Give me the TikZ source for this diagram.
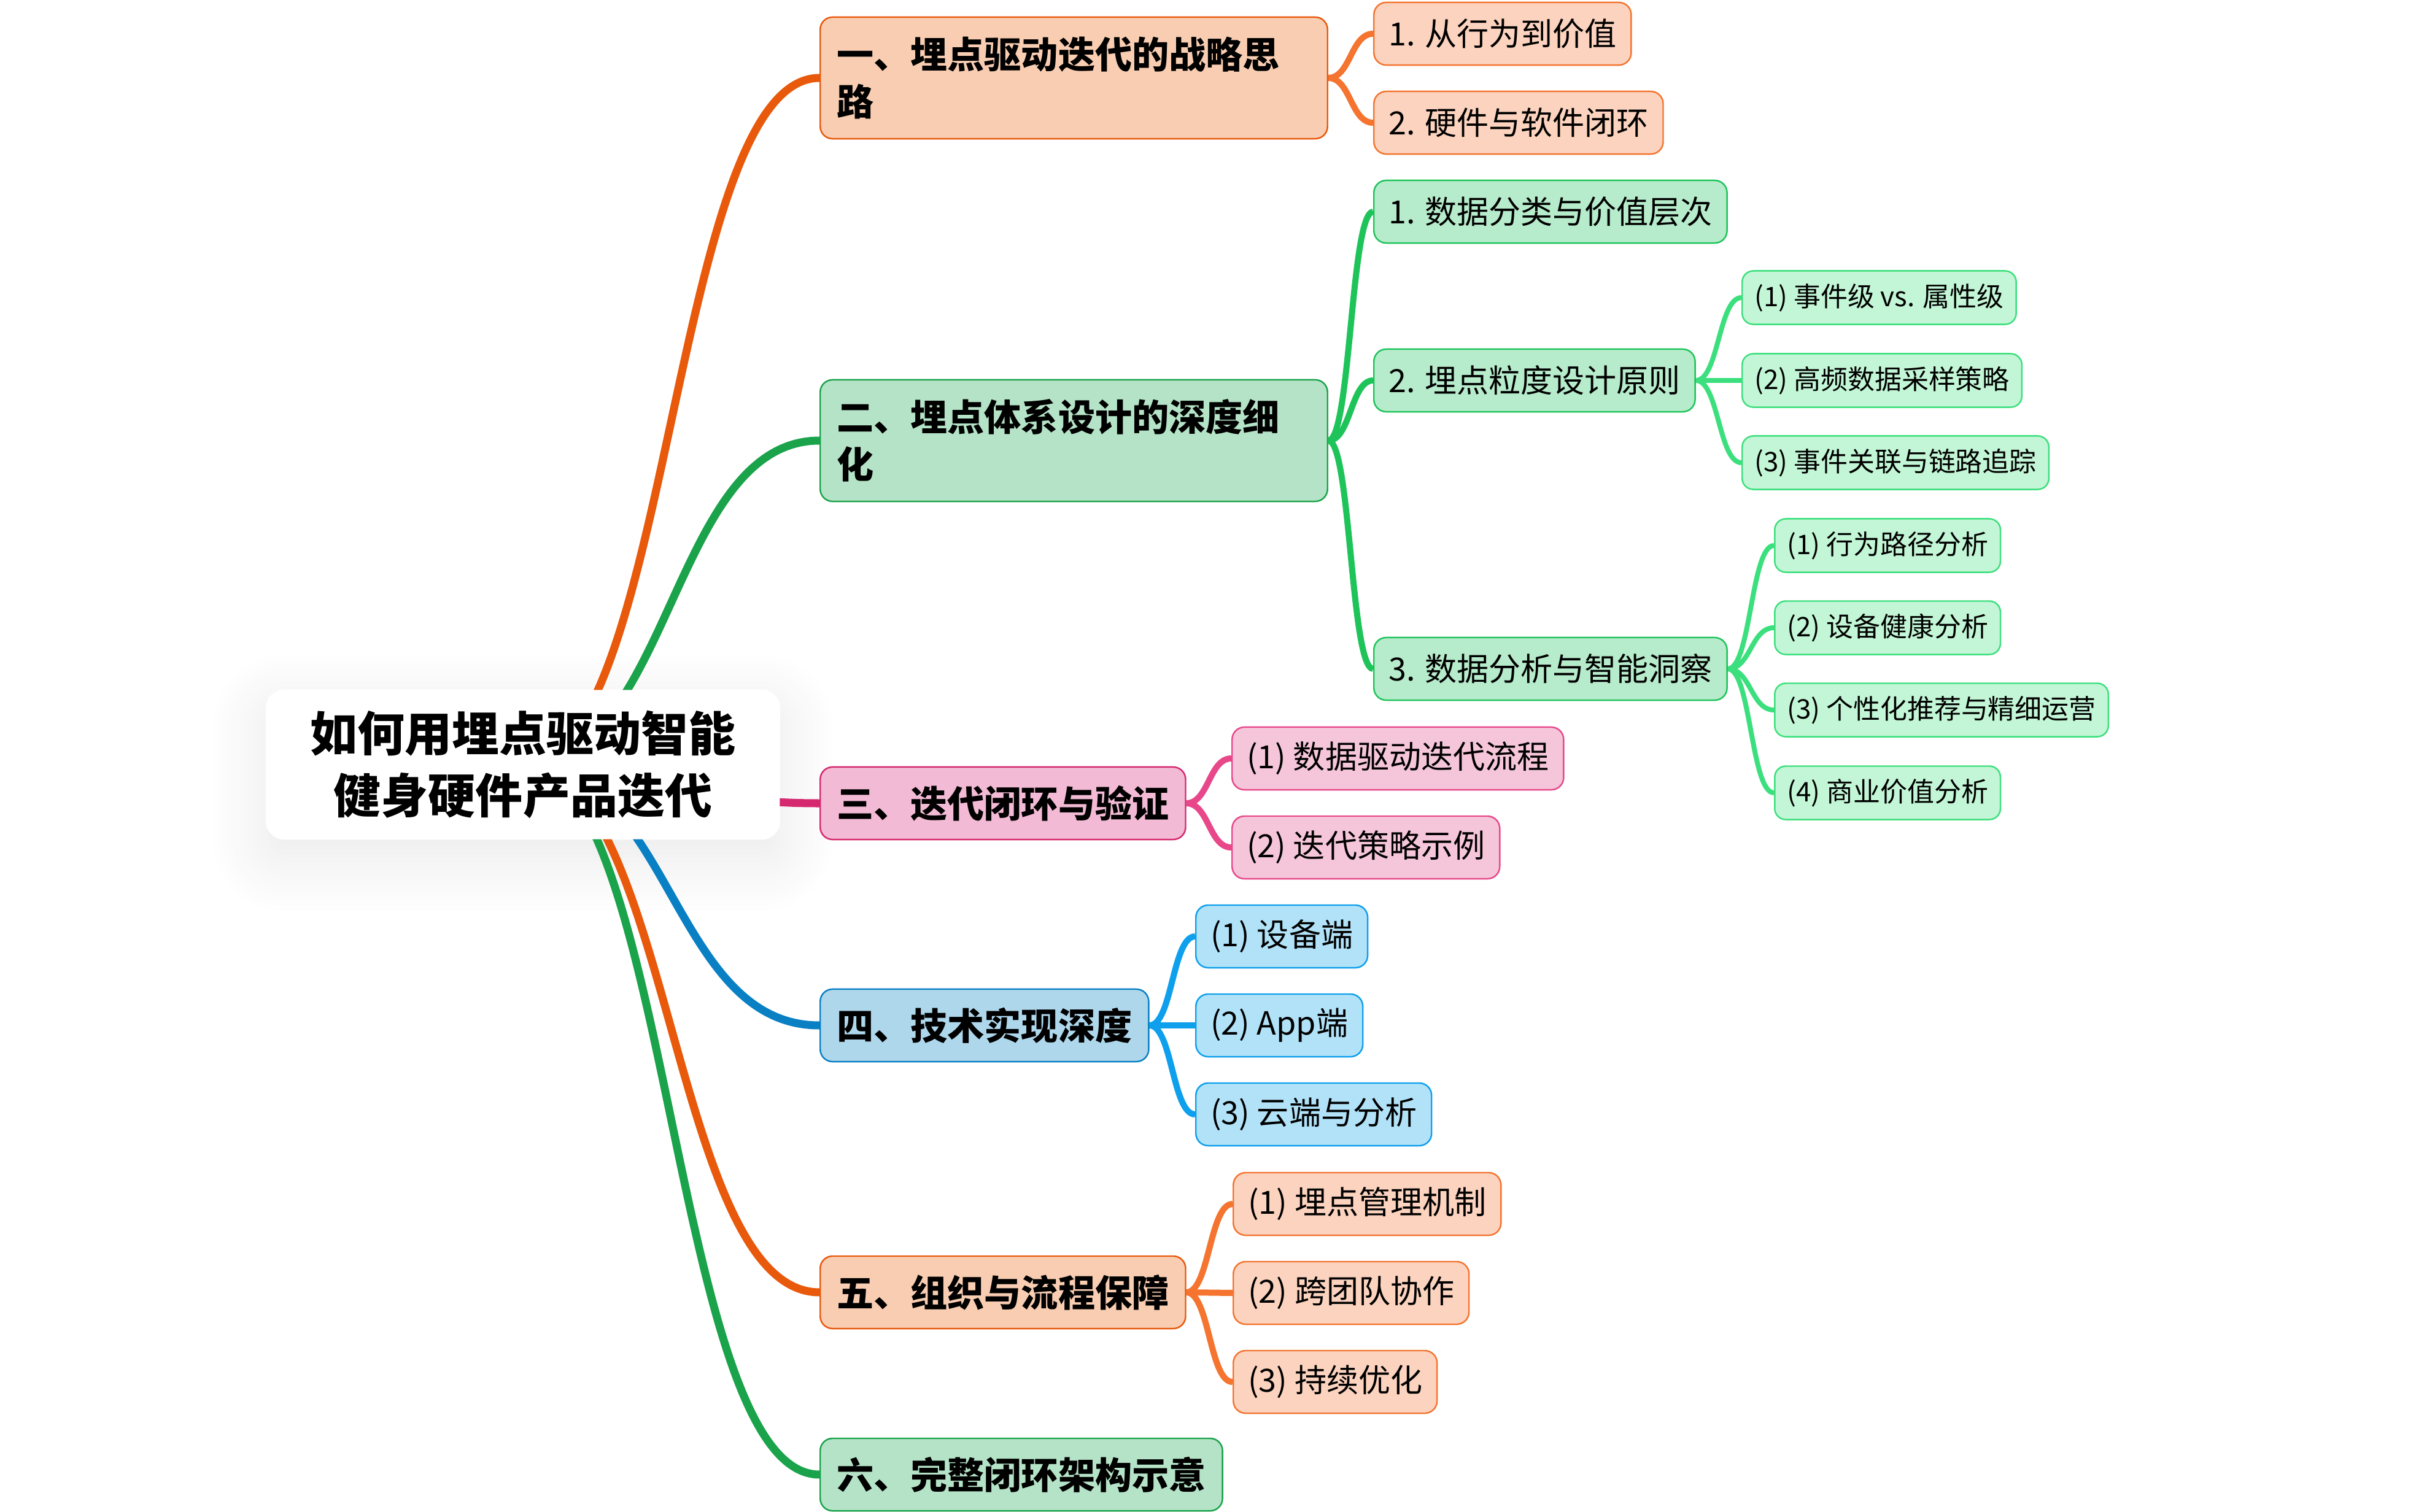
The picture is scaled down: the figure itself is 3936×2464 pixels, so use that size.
\documentclass[tikz,border=0pt]{standalone}
\usepackage{fontspec}
\setmainfont{Noto Sans CJK SC}
\usepackage{tikz}
\usetikzlibrary{calc, backgrounds, shadows.blur}

% 阴影层放在最下面
\pgfdeclarelayer{shade}
\pgfsetlayers{shade,background,main}

% 各分支颜色 (A: 一级, B: 二级, C: 三级; f 为填充)
\definecolor{orgA}{HTML}{E8590C} \definecolor{orgAf}{HTML}{F8CDB2}
\definecolor{orgB}{HTML}{F47430} \definecolor{orgBf}{HTML}{FBD3BE}
\definecolor{grnA}{HTML}{1AA34A} \definecolor{grnAf}{HTML}{B5E3C7}
\definecolor{grnB}{HTML}{1EC45A} \definecolor{grnBf}{HTML}{B6EBCB}
\definecolor{grnC}{HTML}{3CDF7D} \definecolor{grnCf}{HTML}{C3F6D6}
\definecolor{pnkA}{HTML}{D6286F} \definecolor{pnkAf}{HTML}{F2BAD4}
\definecolor{pnkB}{HTML}{E8488A} \definecolor{pnkBf}{HTML}{F5C6DA}
\definecolor{bluA}{HTML}{0A80C4} \definecolor{bluAf}{HTML}{AED7EC}
\definecolor{bluB}{HTML}{0EA0EC} \definecolor{bluBf}{HTML}{B1E2F8}

\tikzset{
  root/.style={fill=white, rounded corners=0.3cm, minimum width=8.36cm, minimum height=2.43cm,
    align=center, font=\fontsize{21.9pt}{29pt}\selectfont\bfseries},
  lvone/.style={draw=#1, fill=#1f, line width=0.7pt, rounded corners=0.2cm, anchor=west,
    inner xsep=0.27cm, inner ysep=0pt, minimum height=1.18cm,
    font=\fontsize{17.1pt}{21.9pt}\selectfont\bfseries},
  lvwide/.style={text width=7.72cm, align=left, minimum height=1.98cm},
  lvtwo/.style={draw=#1, fill=#1f, line width=0.7pt, rounded corners=0.2cm, anchor=west,
    inner xsep=0.24cm, inner ysep=0pt, minimum height=1.02cm,
    font=\fontsize{14.8pt}{18pt}\selectfont},
  lvthree/.style={draw=#1, fill=#1f, line width=0.7pt, rounded corners=0.18cm, anchor=west,
    inner xsep=0.2cm, inner ysep=0pt, minimum height=0.87cm,
    font=\fontsize{12.5pt}{15pt}\selectfont},
}

% 曲线连线: #1 颜色, #2 线宽, #3 起点, #4 终点节点
\newcommand{\maplink}[4]{%
  \draw[draw=#1, line width=#2] let \p1=(#3), \p2=(#4.west) in
    (\p1) .. controls ({(\x1+\x2)/2},\y1) and ({(\x1+\x2)/2},\y2) .. (\p2);}

\begin{document}
\begin{tikzpicture}[x=0.01cm, y=-0.01cm]
  \useasboundingbox (0,0) rectangle (3936,2464);

  % 根节点
  \node[root] (root) at (852,1246) {如何用埋点驱动智能\\健身硬件产品迭代};

  % 一级分支
  \node[lvone=orgA, lvwide] (b1) at (1335,127) {一、埋点驱动迭代的战略思\\路};
  \node[lvone=grnA, lvwide] (b2) at (1335,718) {二、埋点体系设计的深度细\\化};
  \node[lvone=pnkA] (b3) at (1335,1309) {三、迭代闭环与验证};
  \node[lvone=bluA] (b4) at (1335,1671) {四、技术实现深度};
  \node[lvone=orgA] (b5) at (1335,2106) {五、组织与流程保障};
  \node[lvone=grnA] (b6) at (1335,2403) {六、完整闭环架构示意};

  % 二级节点
  \node[lvtwo=orgB] (b1a) at (2237,55) {1. 从行为到价值};
  \node[lvtwo=orgB] (b1b) at (2237,200) {2. 硬件与软件闭环};
  \node[lvtwo=grnB] (b2a) at (2237,345) {1. 数据分类与价值层次};
  \node[lvtwo=grnB] (b2b) at (2237,620) {2. 埋点粒度设计原则};
  \node[lvtwo=grnB] (b2c) at (2237,1090) {3. 数据分析与智能洞察};
  \node[lvtwo=pnkB] (b3a) at (2006,1236) {(1) 数据驱动迭代流程};
  \node[lvtwo=pnkB] (b3b) at (2006,1381) {(2) 迭代策略示例};
  \node[lvtwo=bluB] (b4a) at (1947,1526) {(1) 设备端};
  \node[lvtwo=bluB] (b4b) at (1947,1671) {(2) App端};
  \node[lvtwo=bluB] (b4c) at (1947,1816) {(3) 云端与分析};
  \node[lvtwo=orgB] (b5a) at (2008,1962) {(1) 埋点管理机制};
  \node[lvtwo=orgB] (b5b) at (2008,2107) {(2) 跨团队协作};
  \node[lvtwo=orgB] (b5c) at (2008,2252) {(3) 持续优化};

  % 三级节点
  \node[lvthree=grnC] (b2b1) at (2837,485) {(1) 事件级 vs. 属性级};
  \node[lvthree=grnC] (b2b2) at (2837,620) {(2) 高频数据采样策略};
  \node[lvthree=grnC] (b2b3) at (2837,754) {(3) 事件关联与链路追踪};
  \node[lvthree=grnC] (b2c1) at (2890,889) {(1) 行为路径分析};
  \node[lvthree=grnC] (b2c2) at (2890,1023) {(2) 设备健康分析};
  \node[lvthree=grnC] (b2c3) at (2890,1157) {(3) 个性化推荐与精细运营};
  \node[lvthree=grnC] (b2c4) at (2890,1292) {(4) 商业价值分析};

  % 根节点阴影
  \begin{pgfonlayer}{shade}
    \fill[white, rounded corners=0.3cm, blur shadow={shadow blur radius=0.9cm, shadow blur steps=24,
      shadow xshift=0cm, shadow yshift=-0.3cm, shadow opacity=9}] (root.south west) rectangle (root.north east);
  \end{pgfonlayer}

  % 连线
  \begin{scope}[on background layer]
    \foreach \m/\c in {b1/orgA, b2/grnA, b3/pnkA, b4/bluA, b5/orgA, b6/grnA}
      \maplink{\c}{0.13cm}{root.center}{\m};
    \foreach \m in {b1a, b1b} \maplink{orgB}{0.1cm}{b1.east}{\m};
    \foreach \m in {b2a, b2b, b2c} \maplink{grnB}{0.1cm}{b2.east}{\m};
    \foreach \m in {b3a, b3b} \maplink{pnkB}{0.1cm}{b3.east}{\m};
    \foreach \m in {b4a, b4b, b4c} \maplink{bluB}{0.1cm}{b4.east}{\m};
    \foreach \m in {b5a, b5b, b5c} \maplink{orgB}{0.1cm}{b5.east}{\m};
    \foreach \m in {b2b1, b2b2, b2b3} \maplink{grnC}{0.08cm}{b2b.east}{\m};
    \foreach \m in {b2c1, b2c2, b2c3, b2c4} \maplink{grnC}{0.08cm}{b2c.east}{\m};
  \end{scope}
\end{tikzpicture}
\end{document}
